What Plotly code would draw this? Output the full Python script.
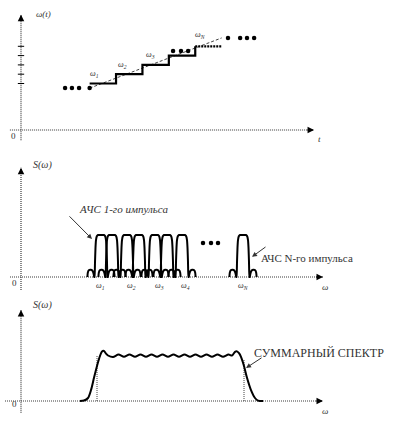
import plotly.graph_objects as go

# ---------------- data ----------------
# Panel 1: stepped frequency law w(t)
step_t = [2.6, 3.6, 4.6, 5.6, 6.6, 7.6]
step_w = [5, 6, 7, 8, 9]
tick_levels = [5, 6, 7, 8, 9]
trend_t = [2.6, 7.6]
trend_w = [4.5, 9.9]
dots1_t = [1.67, 1.93, 2.20, 2.6, 5.76, 6.06, 6.33, 7.84, 8.30, 8.56, 8.83]
dots1_w = [4.52, 4.52, 4.52, 4.52, 8.49, 8.49, 8.49, 9.89, 9.89, 9.89, 9.89]
step_labels = ["ω<sub>1</sub>", "ω<sub>2</sub>", "ω<sub>3</sub>", "ω<sub>N</sub>"]
step_label_t = [2.8, 3.83, 4.89, 6.78]
step_label_w = [6.0, 7.0, 8.06, 10.2]

# Panel 2: spectra of individual pulses
pulse_centers = [8.0, 9.1, 10.6, 11.8, 13.4, 14.6, 16.1, 22.2]
pulse_offsets = [-1.36, -1.32, -1.22, -1.05, -0.85, -0.74, -0.68, -0.65, -0.6, -0.55, -0.5,
                 -0.42, -0.3, 0.0, 0.3, 0.42, 0.5, 0.55, 0.6, 0.65, 0.68, 0.74, 0.85, 1.05,
                 1.22, 1.32, 1.36]
pulse_heights = [0.0, 0.1, 0.16, 0.17, 0.15, 0.08, 0.0, 0.0, 0.35, 0.7, 0.88,
                 0.97, 1.0, 1.0, 1.0, 0.97, 0.88, 0.7, 0.35, 0.0, 0.0, 0.08, 0.15, 0.17,
                 0.16, 0.1, 0.0]
dots2_w = [18.2, 19.0, 19.7]
dots2_s = [0.81, 0.81, 0.81]
freq_labels = ["ω<sub>1</sub>", "ω<sub>2</sub>", "ω<sub>3</sub>", "ω<sub>4</sub>", "ω<sub>N</sub>"]
freq_label_w = [7.9, 11.0, 13.8, 16.4, 22.2]

# Panel 3: summed spectrum
sum_w = [5.9, 6.3, 6.7, 7.0, 7.3, 7.6, 7.9, 8.1, 8.3, 8.5, 8.7,
         9.2, 9.75, 10.3, 10.85, 11.4, 11.95, 12.5, 13.05, 13.6, 14.15, 14.7, 15.25,
         15.8, 16.35, 16.9, 17.45, 18.0, 18.55, 19.1, 19.65, 20.2, 20.75, 21.1,
         21.4, 21.6, 21.8, 22.0, 22.3, 22.6, 23.0, 23.4, 23.7, 24.2]
sum_s = [0.0, 0.01, 0.066, 0.24, 0.51, 0.77, 0.99, 1.09, 1.10, 1.04, 1.0,
         0.965, 1.02, 0.97, 1.02, 0.97, 1.02, 0.97, 1.02, 0.97, 1.02, 0.97, 1.02,
         0.97, 1.02, 0.97, 1.02, 0.97, 1.02, 0.97, 1.02, 0.97, 1.02, 1.0,
         1.08, 1.09, 1.05, 0.97, 0.77, 0.51, 0.24, 0.066, 0.01, 0.0]
edge_w = [7.6, 22.3]
edge_s = [1.0, 0.9]

# ---------------- figure ----------------
W, H = 393, 423
FONT = "Liberation Serif"
AX_COL = "#3a3a3a"
TXT_COL = "#333"

fig = go.Figure()

def dom(r0, r1):
    return [(H - r1) / H, (H - r0) / H]

def axis_line(xa, ya, x0, x1, y0, y1, tip):
    fig.add_trace(go.Scatter(x=[x0, x1], y=[0, 0], mode="lines", xaxis=xa, yaxis=ya,
                             line=dict(color=AX_COL, width=1.2, dash="1px,1px"),
                             hoverinfo="skip"))
    fig.add_trace(go.Scatter(x=[0, 0], y=[y0, y1], mode="lines", xaxis=xa, yaxis=ya,
                             line=dict(color=AX_COL, width=1.2, dash="1px,1px"),
                             hoverinfo="skip"))
    fig.add_annotation(x=0, y=y1, xref=xa, yref=ya, ax=0, ay=7, showarrow=True,
                       arrowhead=2, arrowsize=1, arrowwidth=1.3, arrowcolor="black", text="")
    fig.add_annotation(x=tip, y=0, xref=xa, yref=ya, ax=-8, ay=0, showarrow=True,
                       arrowhead=2, arrowsize=1, arrowwidth=1.3, arrowcolor="black", text="")

def label(xa, ya, x, y, txt, size=10, italic=True, xanchor="center"):
    fig.add_annotation(x=x, y=y, xref=xa, yref=ya, text=txt, showarrow=False,
                       xanchor=xanchor, yanchor="middle",
                       font=dict(family=FONT, size=size, color=TXT_COL,
                                 style="italic" if italic else "normal"))

# ----- Panel 1 -----
axis_line("x", "y", -0.42, 11.1, -1.1, 12.4, 11.1)
for lv in tick_levels:
    fig.add_trace(go.Scatter(x=[-0.12, 0.12], y=[lv, lv], mode="lines", xaxis="x", yaxis="y",
                             line=dict(color="black", width=1), hoverinfo="skip"))
fig.add_trace(go.Scatter(x=trend_t, y=trend_w, mode="lines", xaxis="x", yaxis="y",
                         line=dict(color="#444", width=1, dash="3px,2px"), hoverinfo="skip"))
fig.add_trace(go.Scatter(x=step_t[:5], y=step_w, mode="lines", xaxis="x", yaxis="y",
                         line=dict(color="black", width=2.2, shape="hv"), hoverinfo="skip"))
fig.add_trace(go.Scatter(x=step_t[4:], y=[step_w[-1], step_w[-1]], mode="lines",
                         xaxis="x", yaxis="y",
                         line=dict(color="black", width=2.2, dash="2px,1px"), hoverinfo="skip"))
fig.add_trace(go.Scatter(x=dots1_t, y=dots1_w, mode="markers", xaxis="x", yaxis="y",
                         marker=dict(color="black", size=4.5), hoverinfo="skip"))
for t, w, s in zip(step_label_t, step_label_w, step_labels):
    label("x", "y", t, w, s, size=8)
label("x", "y", 0.85, 12.5, "ω(t)", size=9)
label("x", "y", -0.3, -0.6, "0", size=9, italic=False)
label("x", "y", 11.3, -1.0, "t", size=9)

# ----- Panel 2 -----
axis_line("x2", "y2", -1.1, 30.2, -0.31, 2.6, 30.2)
for c in pulse_centers:
    fig.add_trace(go.Scatter(x=[c + o for o in pulse_offsets], y=pulse_heights, mode="lines",
                             xaxis="x2", yaxis="y2",
                             line=dict(color="black", width=2, shape="spline", smoothing=0.5),
                             hoverinfo="skip"))
fig.add_trace(go.Scatter(x=dots2_w, y=dots2_s, mode="markers", xaxis="x2", yaxis="y2",
                         marker=dict(color="black", size=4.5), hoverinfo="skip"))
for w, s in zip(freq_label_w, freq_labels):
    label("x2", "y2", w, -0.21, s, size=8)
label("x2", "y2", 2.1, 2.67, "S(ω)", size=10)
label("x2", "y2", -0.7, -0.14, "0", size=9, italic=False)
label("x2", "y2", 30.4, -0.24, "ω", size=9)
label("x2", "y2", 10.2, 1.62, "АЧС 1-го импульса", size=11, xanchor="center")
fig.add_annotation(x=7.1, y=0.905, xref="x2", yref="y2", ax=4.7, ay=1.48, axref="x2",
                   ayref="y2", showarrow=True, arrowhead=2, arrowsize=1, arrowwidth=1,
                   arrowcolor="#333", text="")
label("x2", "y2", 23.8, 0.45, "АЧС N-го импульса", size=11, italic=False, xanchor="left")
fig.add_annotation(x=23.1, y=0.48, xref="x2", yref="y2", ax=24.6, ay=0.74, axref="x2",
                   ayref="y2", showarrow=True, arrowhead=2, arrowsize=1, arrowwidth=1,
                   arrowcolor="#333", text="")

# ----- Panel 3 -----
axis_line("x3", "y3", -1.6, 30.2, -0.26, 2.0, 30.2)
for w, s in zip(edge_w, edge_s):
    fig.add_trace(go.Scatter(x=[w, w], y=[0, s], mode="lines", xaxis="x3", yaxis="y3",
                             line=dict(color="#444", width=1, dash="1px,1px"),
                             hoverinfo="skip"))
fig.add_trace(go.Scatter(x=sum_w, y=sum_s, mode="lines", xaxis="x3", yaxis="y3",
                         line=dict(color="black", width=2, shape="spline", smoothing=0.8),
                         hoverinfo="skip"))
label("x3", "y3", 2.1, 2.11, "S(ω)", size=10)
label("x3", "y3", -0.7, -0.07, "0", size=9, italic=False)
label("x3", "y3", 30.4, -0.22, "ω", size=9)
label("x3", "y3", 23.1, 1.055, "СУММАРНЫЙ СПЕКТР", size=12, italic=False, xanchor="left")
fig.add_annotation(x=22.5, y=0.725, xref="x3", yref="y3", ax=24.2, ay=0.97, axref="x3",
                   ayref="y3", showarrow=True, arrowhead=2, arrowsize=1, arrowwidth=1,
                   arrowcolor="#333", text="")

hid = dict(visible=False, fixedrange=True)
fig.update_layout(
    width=W, height=H, margin=dict(l=0, r=0, t=0, b=0),
    paper_bgcolor="white", plot_bgcolor="white", showlegend=False,
    xaxis=dict(domain=[0, 1], range=[-21 / 26.4, 372 / 26.4], anchor="y", **hid),
    yaxis=dict(domain=dom(0, 145), range=[(130 - 145) / 9.3, 130 / 9.3], anchor="x", **hid),
    xaxis2=dict(domain=[0, 1], range=[-2.1, 37.2], anchor="y2", **hid),
    yaxis2=dict(domain=dom(145, 292), range=[-15 / 42, 132 / 42], anchor="x2", **hid),
    xaxis3=dict(domain=[0, 1], range=[-2.1, 37.2], anchor="y3", **hid),
    yaxis3=dict(domain=dom(292, 423), range=[-22 / 45.5, 109 / 45.5], anchor="x3", **hid),
)

fig.write_html("out.html", config={"displayModeBar": False},
               post_script="document.body.style.margin='0px';document.body.style.overflow='hidden';")
